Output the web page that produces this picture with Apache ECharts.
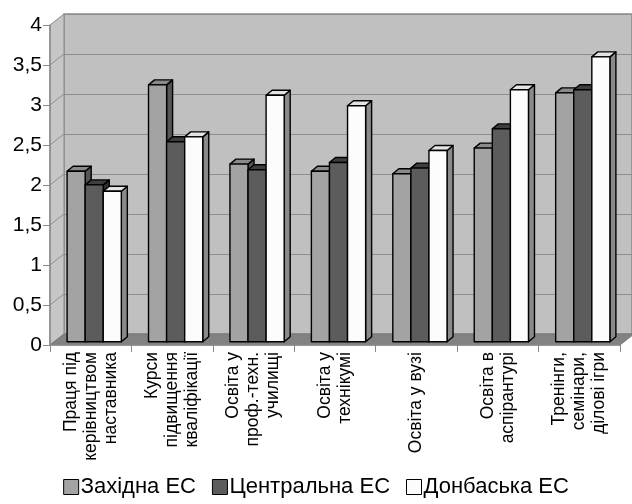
<!DOCTYPE html>
<html>
<head>
<meta charset="utf-8">
<script src="https://cdn.jsdelivr.net/npm/echarts@6/dist/echarts.min.js"></script>
<style>
  html, body { margin: 0; padding: 0; background: #fff; }
  #chart { width: 632px; height: 504px; }
</style>
</head>
<body>
<div id="chart"></div>
<script>
// Categories (forms of training) and average scores for each power system region
const categories = [
  'Праця під\nкерівництвом\nнаставника',
  'Курси\nпідвищення\nкваліфікації',
  'Освіта у\nпроф.-техн.\nучилищі',
  'Освіта у\nтехнікумі',
  'Освіта у вузі',
  'Освіта в\nаспірантурі',
  'Тренінги,\nсемінари,\nділові ігри'
];
const seriesNames = ['Західна ЕС', 'Центральна ЕС', 'Донбаська ЕС'];
const zakhidna   = [2.13, 3.21, 2.22, 2.13, 2.10, 2.42, 3.11];
const tsentralna = [1.96, 2.50, 2.15, 2.24, 2.17, 2.66, 3.15];
const donbaska   = [1.88, 2.56, 3.08, 2.95, 2.39, 3.15, 3.56];
const yTicks = [0, 0.5, 1, 1.5, 2, 2.5, 3, 3.5, 4];

// Face shades for each series: front, top, side
const shades = [
  { front: '#a3a3a3', top: '#8a8a8a', side: '#555555' },
  { front: '#5c5c5c', top: '#3e3e3e', side: '#2e2e2e' },
  { front: '#fcfcfc', top: '#e4e4e4', side: '#8a8a8a' }
];

// Perspective offsets (pixels) used for the pseudo-3D look
const WALL_DX = 14, WALL_DY = -11;   // depth of the whole plot box
const BAR_SX = 3.5, BAR_SY = -3.3;   // bars stand a little behind the front plane
const BAR_DX = 6, BAR_DY = -5;       // depth of a single bar

const FONT = '"Liberation Sans", Arial, sans-serif';

function barRenderer(sIdx) {
  return function (params, api) {
    const cat = api.value(0);
    const base = api.coord([cat, 0]);
    const top = api.coord([cat, api.value(1)]);
    const band = api.size([1, 0])[0];
    const w = band * 0.222;
    const x = base[0] - 1.5 * w + sIdx * w + BAR_SX;
    const yb = base[1] + BAR_SY;
    const yt = top[1] + BAR_SY;
    const c = shades[sIdx];
    const stroke = { stroke: '#000', lineWidth: 1.4, lineJoin: 'round' };
    return {
      type: 'group',
      children: [
        {
          type: 'polygon',
          shape: { points: [[x + w, yt], [x + w + BAR_DX, yt + BAR_DY], [x + w + BAR_DX, yb + BAR_DY], [x + w, yb]] },
          style: Object.assign({ fill: c.side }, stroke)
        },
        {
          type: 'polygon',
          shape: { points: [[x, yt], [x + BAR_DX, yt + BAR_DY], [x + w + BAR_DX, yt + BAR_DY], [x + w, yt]] },
          style: Object.assign({ fill: c.top }, stroke)
        },
        {
          type: 'rect',
          shape: { x: x, y: yt, width: w, height: yb - yt },
          style: Object.assign({ fill: c.front }, stroke)
        }
      ]
    };
  };
}

// Left wall, floor and the wall's diagonal grid strokes
function sceneRenderer(params, api) {
  const cs = params.coordSys;
  const left = cs.x, right = cs.x + cs.width;
  const yBottom = api.coord([0, 0])[1];
  const yTop = api.coord([0, 4])[1];
  const children = [];
  children.push({
    type: 'polygon',
    shape: { points: [[left, yBottom], [left, yTop], [left + WALL_DX, yTop + WALL_DY], [left + WALL_DX, yBottom + WALL_DY]] },
    style: { fill: '#c6c6c6', stroke: '#8a8a8a', lineWidth: 1 }
  });
  yTicks.forEach(function (t) {
    if (t === 0 || t === 4) return;
    const y = api.coord([0, t])[1];
    children.push({
      type: 'line',
      shape: { x1: left, y1: y, x2: left + WALL_DX, y2: y + WALL_DY },
      style: { stroke: '#8e8e8e', lineWidth: 1 }
    });
  });
  children.push({
    type: 'polygon',
    shape: { points: [[left, yBottom], [right, yBottom], [right + WALL_DX, yBottom + WALL_DY], [left + WALL_DX, yBottom + WALL_DY]] },
    style: { fill: '#828282', stroke: '#7a7a7a', lineWidth: 1 }
  });
  return { type: 'group', children: children };
}

const chart = echarts.init(document.getElementById('chart'), null, { renderer: 'canvas' });

const valueSets = [zakhidna, tsentralna, donbaska];

chart.setOption({
  animation: false,
  backgroundColor: '#ffffff',
  grid: [
    { left: 50, top: 25, width: 570, height: 320, show: false },
    { left: 50 + WALL_DX, top: 25 + WALL_DY, width: 570, height: 320, show: true,
      backgroundColor: '#c0c0c0', borderColor: '#8a8a8a', borderWidth: 1.5 }
  ],
  xAxis: [
    {
      gridIndex: 0, type: 'category', data: categories, z: 20,
      axisLine: { lineStyle: { color: '#8a8a8a', width: 1.5 } },
      axisTick: { show: true, length: 7, interval: 0, lineStyle: { color: '#8a8a8a' } },
      axisLabel: { rotate: 90, interval: 0, margin: 7, fontSize: 17.5, lineHeight: 20,
        color: '#000', fontFamily: FONT }
    },
    { gridIndex: 1, type: 'category', data: categories, show: false }
  ],
  yAxis: [
    {
      gridIndex: 0, type: 'value', min: 0, max: 4, interval: 0.5, z: 20,
      axisLine: { show: true, lineStyle: { color: '#8a8a8a', width: 1.5 } },
      axisTick: { show: true, length: 7, lineStyle: { color: '#8a8a8a' } },
      splitLine: { show: false },
      axisLabel: { margin: 8, fontSize: 21, color: '#000', fontFamily: FONT,
        formatter: function (v) { return String(v).replace('.', ','); } }
    },
    {
      gridIndex: 1, type: 'value', min: 0, max: 4, interval: 0.5,
      axisLine: { show: false }, axisTick: { show: false }, axisLabel: { show: false },
      splitLine: { show: true, lineStyle: { color: '#8e8e8e', width: 1 } }
    }
  ],
  legend: {
    bottom: 1, left: 'center', itemGap: 16, itemWidth: 15, itemHeight: 15,
    textStyle: { fontSize: 22, color: '#000', fontFamily: FONT, padding: [0, 0, 0, -3] },
    data: seriesNames.map(function (name, i) {
      return { name: name, icon: 'rect',
        itemStyle: { color: shades[i].front, borderColor: '#000', borderWidth: 1 } };
    })
  },
  series: [
    {
      type: 'custom', name: '__scene', xAxisIndex: 0, yAxisIndex: 0, z: 1, silent: true,
      clip: false, data: [[0, 0]], renderItem: sceneRenderer
    }
  ].concat(seriesNames.map(function (name, i) {
    return {
      type: 'custom', name: name, xAxisIndex: 0, yAxisIndex: 0, z: 5, clip: false,
      itemStyle: { color: shades[i].front, borderColor: '#000', borderWidth: 1 },
      data: valueSets[i].map(function (v, k) { return [k, v]; }),
      renderItem: barRenderer(i)
    };
  }))
});
</script>
</body>
</html>
